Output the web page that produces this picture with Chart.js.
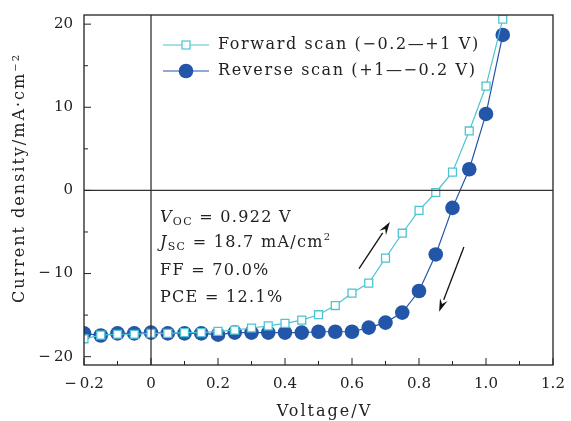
<!DOCTYPE html>
<html><head><meta charset="utf-8">
<script src="https://cdn.jsdelivr.net/npm/chart.js@4/dist/chart.umd.min.js"></script>
<style>html,body{margin:0;padding:0;background:#fff}#wrap{width:571px;height:421px}</style>
</head><body><div id="wrap"><canvas id="c" width="571" height="421"></canvas></div>
<script>
const voltage = [-0.2,-0.15,-0.1,-0.05,0,0.05,0.1,0.15,0.2,0.25,0.3,0.35,0.4,0.45,0.5,0.55,0.6,0.65,0.7,0.75,0.8,0.85,0.9,0.95,1.0,1.05];
const forwardJ = [-17.85,-17.4,-17.3,-17.3,-17.2,-17.2,-17.1,-17.1,-16.95,-16.8,-16.55,-16.3,-16.0,-15.6,-14.95,-13.85,-12.35,-11.15,-8.15,-5.15,-2.4,-0.25,2.2,7.15,12.55,20.6];
const reverseJ = [-17.2,-17.45,-17.2,-17.2,-17.1,-17.2,-17.2,-17.2,-17.35,-17.1,-17.1,-17.1,-17.1,-17.1,-17.0,-17.0,-17.0,-16.5,-15.9,-14.7,-12.1,-7.7,-2.1,2.55,9.2,18.7];
const xTicks = [-0.2,0,0.2,0.4,0.6,0.8,1.0,1.2];
const yTicks = [-20,-10,0,10,20];
const seriesNames = ["Forward scan (\u22120.2\u2014+1 V)","Reverse scan (+1\u2014\u22120.2 V)"];
const xTitle = "Voltage/V";
const yTitle = "Current density/mA\u00b7cm\u207b\u00b2";
const arrows = [[0.621,-9.4,0.713,-3.8],[0.934,-6.8,0.860,-14.6]];

const SERIF = "'DejaVu Serif','Liberation Serif',serif";
const FWD = '#4fc3d3', REV = '#2356a8', INK = '#222';

function fmtX(v){ if (Math.abs(v)<1e-9) return '0'; const s = v.toFixed(1); return v<0 ? '\u2212\u2009'+s.slice(1) : s; }
function fmtY(v){ return v<0 ? '\u2212\u2009'+Math.abs(v) : String(v); }

function spaced(ctx, px){ if ('letterSpacing' in ctx) ctx.letterSpacing = px; }

const deco = {
  id:'deco',
  beforeUpdate(chart){ spaced(chart.ctx,'0px'); },
  beforeDraw(chart){ spaced(chart.ctx,'0px'); },
  afterDatasetsDraw(chart){
    const {ctx, chartArea:a, scales:{x,y}} = chart;
    ctx.save();
    ctx.strokeStyle = '#333'; ctx.lineWidth = 1.3;
    ctx.beginPath();
    ctx.moveTo(x.getPixelForValue(0), a.top); ctx.lineTo(x.getPixelForValue(0), a.bottom);
    ctx.moveTo(a.left, y.getPixelForValue(0)); ctx.lineTo(a.right, y.getPixelForValue(0));
    ctx.stroke();
    ctx.strokeStyle = INK; ctx.lineWidth = 1.3;
    ctx.strokeRect(a.left, a.top, a.right-a.left, a.bottom-a.top);
    ctx.lineWidth = 1;
    ctx.beginPath();
    for (let v=-0.2; v<=1.2001; v+=0.1){
      const px = x.getPixelForValue(v);
      const major = Math.abs(Math.round(v*10)%2)===0;
      ctx.moveTo(px, a.bottom); ctx.lineTo(px, a.bottom-(major?7:4));
    }
    for (let v=-20; v<=20; v+=5){
      const py = y.getPixelForValue(v);
      const major = v%10===0;
      ctx.moveTo(a.left, py); ctx.lineTo(a.left+(major?7:4), py);
    }
    ctx.stroke();
    // arrows
    ctx.strokeStyle = '#111'; ctx.fillStyle = '#111'; ctx.lineWidth = 1.3;
    for (const [x0,y0,x1,y1] of arrows){
      const p0=[x.getPixelForValue(x0), y.getPixelForValue(y0)], p1=[x.getPixelForValue(x1), y.getPixelForValue(y1)];
      const ang = Math.atan2(p1[1]-p0[1], p1[0]-p0[0]);
      const L=13, W=4;
      const bx = p1[0]-L*Math.cos(ang), by = p1[1]-L*Math.sin(ang);
      ctx.beginPath(); ctx.moveTo(p0[0],p0[1]); ctx.lineTo(bx,by); ctx.stroke();
      ctx.beginPath(); ctx.moveTo(p1[0],p1[1]);
      ctx.lineTo(bx+W*Math.sin(ang), by-W*Math.cos(ang));
      ctx.lineTo(bx+0.35*L*Math.cos(ang), by+0.35*L*Math.sin(ang));
      ctx.lineTo(bx-W*Math.sin(ang), by+W*Math.cos(ang));
      ctx.closePath(); ctx.fill();
    }
    // legend
    const lx = a.left+79, ly1 = a.top+30, ly2 = a.top+56;
    ctx.lineWidth = 1.2;
    ctx.strokeStyle = FWD; ctx.beginPath(); ctx.moveTo(lx,ly1); ctx.lineTo(lx+46,ly1); ctx.stroke();
    ctx.fillStyle='#fff'; ctx.fillRect(lx+23-4, ly1-4, 8, 8); ctx.strokeRect(lx+23-4, ly1-4, 8, 8);
    ctx.strokeStyle = REV; ctx.beginPath(); ctx.moveTo(lx,ly2); ctx.lineTo(lx+46,ly2); ctx.stroke();
    ctx.fillStyle=REV; ctx.beginPath(); ctx.arc(lx+23, ly2, 7.3, 0, Math.PI*2); ctx.fill();
    ctx.fillStyle=INK; ctx.font = '16px '+SERIF; ctx.textBaseline='middle'; ctx.textAlign='left';
    spaced(ctx,'1.6px');
    ctx.fillText(seriesNames[0], lx+55, ly1);
    ctx.fillText(seriesNames[1], lx+55, ly2);
    // annotation
    const tx = a.left+76;
    const lines = [
      [['V','i'],['OC','s'],[' = 0.922 V','n']],
      [['J','i'],['SC','s'],[' = 18.7 mA/cm','n'],['2','p']],
      [['FF = 70.0%','n']],
      [['PCE = 12.1%','n']]
    ];
    const bys = [222,247,275,302];
    ctx.textBaseline='alphabetic';
    spaced(ctx,'1.3px');
    lines.forEach((ln,i)=>{
      let cx = tx; const by = bys[i];
      for (const [t,k] of ln){
        let f='16px '+SERIF, dy=0;
        if (k==='i') f='italic 16px '+SERIF;
        if (k==='s'){ f='11px '+SERIF; dy=3; }
        if (k==='p'){ f='10px '+SERIF; dy=-7; }
        ctx.font=f; ctx.fillText(t, cx, by+dy); cx += ctx.measureText(t).width;
      }
    });
    // axis titles
    ctx.font = '16px '+SERIF; spaced(ctx,'2px'); ctx.textAlign='center'; ctx.textBaseline='middle';
    ctx.fillText(xTitle, (a.left+a.right)/2+6, 412);
    ctx.translate(20, (a.top+a.bottom)/2-12);
    ctx.rotate(-Math.PI/2);
    ctx.fillText(yTitle, 0, 0);
    spaced(ctx,'0px');
    ctx.restore();
    spaced(ctx,'0px');
  }
};

new Chart(document.getElementById('c'), {
  type:'line',
  data:{ datasets:[
    { label:seriesNames[0], data: voltage.map((v,i)=>({x:v,y:forwardJ[i]})), borderColor:FWD, backgroundColor:'#fff',
      borderWidth:1.2, pointStyle:'rect', pointRadius:5.6, pointBorderWidth:1.3, pointBorderColor:FWD, pointBackgroundColor:'#fff', tension:0 },
    { label:seriesNames[1], data: voltage.map((v,i)=>({x:v,y:reverseJ[i]})), borderColor:REV, backgroundColor:REV,
      borderWidth:1.2, pointStyle:'circle', pointRadius:7.3, pointBorderWidth:0, pointBackgroundColor:REV, tension:0 }
  ]},
  options:{
    responsive:false, animation:false, devicePixelRatio:1,
    layout:{padding:{left:0,top:15,right:18,bottom:0}},
    plugins:{legend:{display:false}, tooltip:{enabled:false}},
    scales:{
      x:{ type:'linear', min:-0.2, max:1.2, afterBuildTicks(s){ s.ticks = xTicks.map(v=>({value:v})); },
          afterFit(s){ s.height = 56; s.paddingLeft = 0; s.paddingRight = 0; },
          grid:{display:false, drawTicks:false}, border:{display:false},
          ticks:{ callback:fmtX, color:INK, font:{family:SERIF,size:15}, padding:10, maxRotation:0 },
          title:{display:false} },
      y:{ type:'linear', min:-21.0, max:21.1, afterBuildTicks(s){ s.ticks = yTicks.map(v=>({value:v})); },
          afterFit(s){ s.width = 84; s.paddingTop = 0; s.paddingBottom = 0; },
          grid:{display:false, drawTicks:false}, border:{display:false},
          ticks:{ callback:fmtY, color:INK, font:{family:SERIF,size:15}, padding:11 },
          title:{display:false} }
    }
  },
  plugins:[deco]
});
</script></body></html>
